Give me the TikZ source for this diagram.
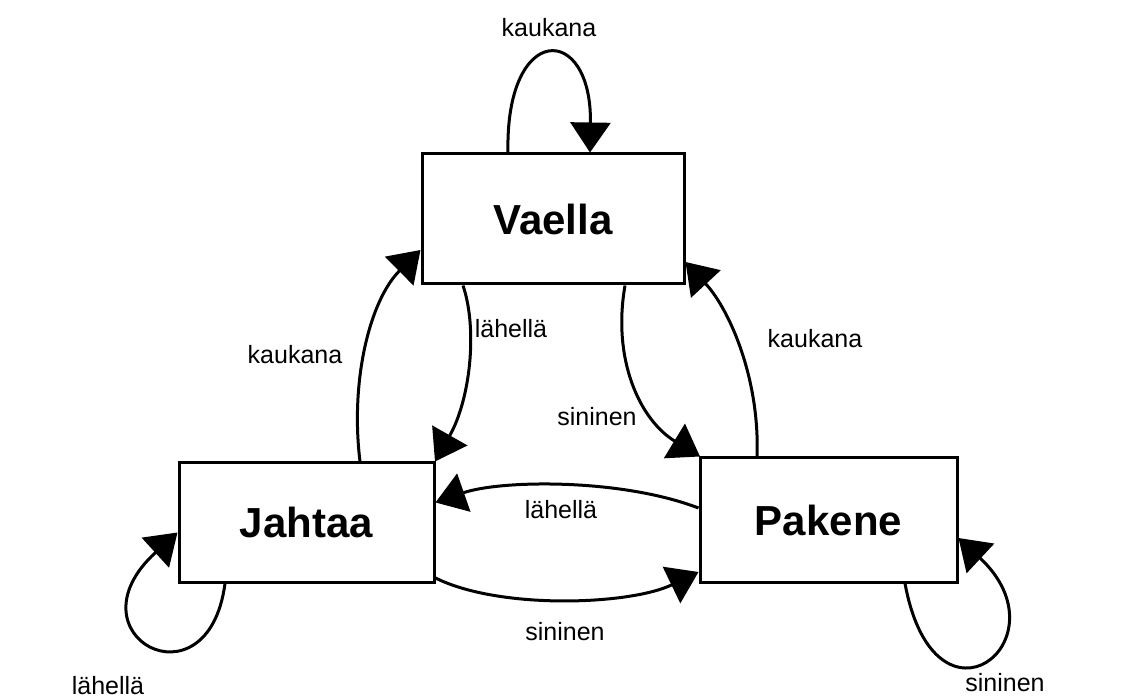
\documentclass[tikz,border=0pt]{standalone}
\usepackage{fontspec}
\setmainfont{Liberation Sans}
\usetikzlibrary{arrows.meta}
\begin{document}
\begin{tikzpicture}[x=1pt,y=-1pt,
  statebox/.style={draw,line width=3pt,rectangle,inner sep=0pt,font=\fontsize{42}{48}\selectfont\bfseries},
  trans/.style={line width=3pt,-{Triangle[length=30pt,width=40pt]}},
  lbl/.style={inner sep=0pt,font=\fontsize{25}{30}\selectfont}]
\useasboundingbox (0,0) rectangle (1125,700);
\fill[white] (0,0) rectangle (1125,700);
\node[statebox,minimum width=262pt,minimum height=130pt] (V) at (553,219) {Vaella};
\node[statebox,minimum width=255pt,minimum height=119pt] (J) at (306.5,522.5) {Jahtaa};
\node[statebox,minimum width=257pt,minimum height=124pt] (P) at (828.5,520) {Pakene};
% self loops
\draw[trans] ([xshift=-45pt]V.north) .. controls (505,22) and (592,22) .. ([xshift=37pt]V.north);
\draw[trans] ([xshift=-81.5pt]J.south) .. controls (208,712) and (65,635) .. ([yshift=-10pt]J.west);
\draw[trans] ([xshift=76.5pt]P.south) .. controls (935,745) and (1068,640) .. ([yshift=-18pt]P.east);
% between states
\draw[trans] ([xshift=53.5pt]J.north) .. controls (350,380) and (370,300) .. ([yshift=-31pt]V.west);
\draw[trans] ([xshift=-90pt]V.south) .. controls (478,330) and (470,400) .. ([xshift=128.5pt]J.north);
\draw[trans] ([xshift=72pt]V.south) .. controls (612,360) and (640,420) .. ([xshift=-128.5pt]P.north);
\draw[trans] ([xshift=-71.5pt]P.north) .. controls (760,380) and (730,310) .. ([yshift=-43pt]V.east);
\draw[trans] ([yshift=12pt]P.west) .. controls (620,478) and (500,480) .. ([yshift=20pt]J.east);
\draw[trans] ([yshift=-55.5pt]J.east) .. controls (500,610) and (630,605) .. ([yshift=-52pt]P.west);
% labels
\node[lbl] (l1) at (549,28) {kaukana};
\node[lbl] (l2) at (108,686) {lähellä};
\node[lbl] (l3) at (1005,683) {sininen};
\node[lbl] (l4) at (295,355) {kaukana};
\node[lbl] (l5) at (511,329) {lähellä};
\node[lbl] (l6) at (597,417) {sininen};
\node[lbl] (l7) at (815,339) {kaukana};
\node[lbl] (l8) at (561,510) {lähellä};
\node[lbl] (l9) at (565,632) {sininen};
\end{tikzpicture}
\end{document}
